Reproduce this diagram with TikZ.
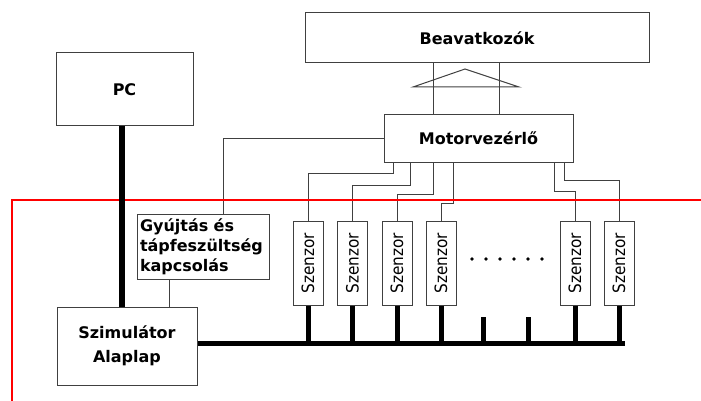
\documentclass[tikz,border=0pt]{standalone}
\usepackage{fontspec}
\usepackage{graphicx}
\setmainfont{DejaVu Sans}
\newfontfamily\szfont{DejaVu Sans}[FakeStretch=0.9]
\usetikzlibrary{calc}
\definecolor{bdgray}{HTML}{404040}
\definecolor{bdred}{HTML}{FF0000}

\begin{document}
\begin{tikzpicture}[
  x=1pt, y=-1pt,
  every node/.style={font=\bfseries\fontsize{16}{20}\selectfont},
  blockbox/.style={rectangle, draw=bdgray, line width=1pt, fill=white, inner sep=3pt, align=center},
  sensbox/.style={rectangle, draw=bdgray, line width=1pt, fill=white, minimum width=30pt, minimum height=84pt, inner sep=0pt, font=\szfont\fontsize{17}{20}\selectfont},
  wire/.style={draw=bdgray, line width=1pt},
  bus/.style={draw=black, line width=5pt},
  frameline/.style={draw=bdred, line width=2pt},
]
\useasboundingbox (0,0) rectangle (701,401);

% Top: PC, actuators, motor controller
\node[blockbox, minimum width=137pt, minimum height=73pt] (pc) at (124.5,89.5) {PC};
\node[blockbox, minimum width=344pt, minimum height=50pt] (bv) at (477,38) {Beavatkozók};
\node[blockbox, minimum width=189pt, minimum height=47pt] (mv) at (478.5,138.5) {Motorvezérlő};

% Bottom left: ignition and simulator board
\node[blockbox, minimum width=132pt, minimum height=65pt, align=left, text width=126pt] (gy) at (203,246.5) {Gyújtás és\\tápfeszültség\\kapcsolás};
\node[blockbox, minimum width=140pt, minimum height=78pt, font=\bfseries\fontsize{16}{24}\selectfont] (sz) at (127,346) {Szimulátor\\Alaplap};

% Sensors
\foreach \n/\x in {1/308, 2/352.5, 3/397, 4/441, 5/575, 6/619}
  \node[sensbox] (s\n) at (\x,263) {\rotatebox{90}{Szenzor}};

% Thin wiring
\draw[wire] ([xshift=20pt]gy.north) |- (mv.west);
\draw[wire] ([xshift=-34pt]gy.south) -- ([xshift=-34pt]gy.south |- sz.north);
\foreach \n/\y/\x in {1/173/393, 2/185/410, 3/194/433, 4/203/453, 5/191/554, 6/180/564}
  \draw[wire] (s\n.north) |- (\x,\y) -- (\x,\y |- mv.south);
\draw[wire] (433,0 |- mv.north) -- (433,0 |- bv.south);
\draw[wire] (499,0 |- mv.north) -- (499,0 |- bv.south);
\draw[wire] (413,87) -- (465,69) -- (519,87) -- cycle;

% Red boundary
\draw[frameline] (12,401) |- (701,200);

% Thick bus
\coordinate (busend) at (622,343);
\draw[bus, line width=6pt] ([xshift=-3pt]pc.south) -- ([xshift=-3pt]pc.south |- sz.north);
\draw[bus] (sz.east |- busend) -- ([xshift=2.5pt]busend);
\foreach \n in {1,...,6}
  \draw[bus] (s\n.south) -- (s\n.south |- busend);
\foreach \x in {483,528}
  \draw[bus] (\x,317) -- (\x,0 |- busend);

% More sensors
\foreach \x in {472,486,500,514,528,542}
  \fill (\x,259) circle (1.8pt);

\end{tikzpicture}
\end{document}
